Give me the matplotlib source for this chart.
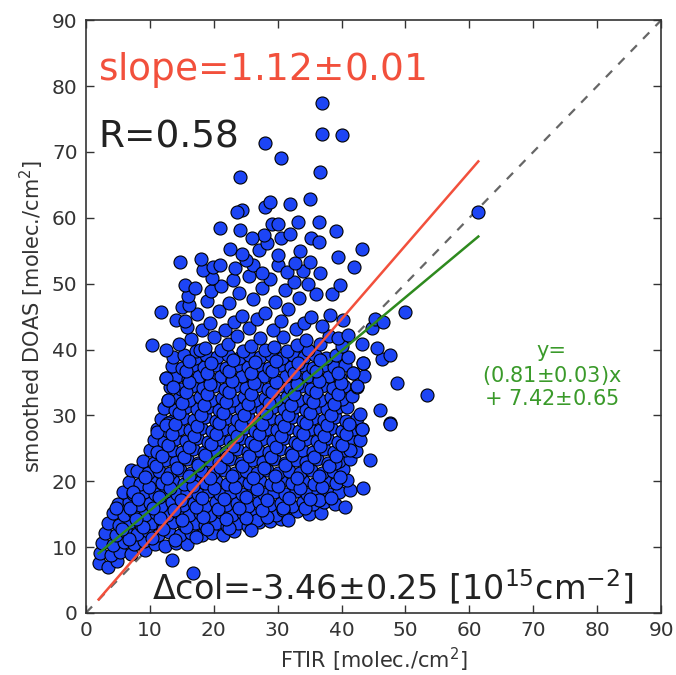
#!/usr/bin/env python
# -*- coding: utf-8 -*-
"""Scatter of smoothed DOAS vs FTIR columns with fit lines."""

import matplotlib
matplotlib.use("Agg")
import matplotlib.pyplot as plt


# (FTIR, DOAS) pairs, grouped by band
low_band = [
    (2.0, 7.6), (3.5, 7.0), (4.8, 7.9),
    (2.2, 9.1), (3.9, 8.8), (5.4, 9.3), (7.0, 9.0), (9.2, 9.6),
    (2.6, 10.6), (4.2, 10.3), (5.9, 10.7), (7.5, 10.4), (9.1, 10.9), (10.8, 10.5),
    (12.4, 10.2), (14.1, 10.6), (15.8, 10.5),
    (3.0, 12.1), (4.7, 11.8), (6.3, 12.3), (8.0, 12.0), (9.7, 12.4), (11.3, 11.9),
    (13.0, 12.3), (14.7, 11.8), (16.4, 12.2), (18.1, 11.9), (19.8, 12.2), (21.5, 11.8),
    (23.2, 12.4),
    (3.5, 13.6), (5.2, 13.3), (6.9, 13.8), (8.6, 13.4), (10.3, 13.7), (12.0, 13.3),
    (13.7, 13.8), (15.3, 13.4), (17.0, 13.7), (18.7, 13.3), (20.4, 13.6), (22.1, 13.2),
    (23.8, 13.7), (25.4, 13.2), (27.1, 13.8), (28.8, 14.0), (30.5, 14.2),
    (4.3, 15.1), (6.0, 14.8), (7.6, 15.3), (9.3, 14.9), (11.0, 15.2), (12.7, 14.8),
    (14.4, 15.3), (16.1, 14.9), (17.8, 15.2), (19.5, 14.8), (21.2, 15.3), (22.9, 14.9),
    (24.6, 15.2), (26.3, 14.8), (28.0, 15.3), (29.7, 14.9), (31.4, 15.1), (33.1, 15.4),
    (34.9, 15.0), (36.8, 15.1),
    (5.0, 16.5), (6.7, 16.8), (8.4, 16.4), (10.1, 16.7), (11.8, 16.3), (13.5, 16.8),
    (15.2, 16.4), (16.9, 16.7), (18.6, 16.3), (20.3, 16.8), (22.0, 16.4), (23.7, 16.7),
    (25.4, 16.3), (27.1, 16.8), (28.8, 16.4), (30.5, 16.7), (32.2, 16.3), (33.9, 16.8),
    (35.6, 16.5), (37.3, 16.9), (39.0, 16.6),
    (5.8, 18.3), (7.4, 18.0), (9.1, 18.4), (10.8, 18.1), (12.5, 18.5), (14.2, 18.0),
    (15.9, 18.4), (17.6, 18.1), (19.3, 18.5), (21.0, 18.0), (22.7, 18.4), (24.4, 18.1),
    (26.1, 18.5), (27.8, 18.0), (29.5, 18.4), (31.2, 18.1), (32.9, 18.5), (34.6, 18.0),
    (36.3, 18.4), (38.0, 18.1), (39.6, 18.3), (41.4, 18.6),
    (6.8, 19.9), (8.5, 19.6), (10.2, 20.0), (11.9, 19.7), (13.6, 20.1), (15.3, 19.6),
    (17.0, 20.0), (18.7, 19.7), (20.4, 20.1), (22.1, 19.6), (23.8, 20.0), (25.5, 19.7),
    (27.2, 20.1), (28.9, 19.6), (30.6, 20.0), (32.3, 19.7), (34.0, 20.1), (35.7, 19.6),
    (37.4, 20.0), (39.1, 19.8), (40.8, 20.2),
    (4.7, 15.9), (7.0, 21.7), (7.3, 18.4), (9.1, 22.7), (13.5, 8.1), (16.7, 6.0),
    (36.4, 17.1), (30.9, 15.6), (26.7, 14.1), (31.7, 14.1), (40.5, 16.1), (43.4, 18.9),
]

mid_band = [
    (8.0, 21.5), (9.7, 21.2), (11.4, 21.6), (13.1, 21.3), (14.8, 21.7), (16.5, 21.2),
    (18.2, 21.6), (19.9, 21.3), (21.6, 21.7), (23.3, 21.2), (25.0, 21.6), (26.7, 21.3),
    (28.4, 21.7), (30.1, 21.2), (31.8, 21.6), (33.5, 21.3), (35.2, 21.7), (36.9, 21.2),
    (38.6, 21.5), (40.3, 21.8),
    (9.0, 23.1), (10.7, 22.8), (12.4, 23.2), (14.1, 22.9), (15.8, 23.3), (17.5, 22.8),
    (19.2, 23.2), (20.9, 22.9), (22.6, 23.3), (24.3, 22.8), (26.0, 23.2), (27.7, 22.9),
    (29.4, 23.3), (31.1, 22.8), (32.8, 23.2), (34.5, 22.9), (36.2, 23.3), (37.9, 22.8),
    (39.6, 23.1), (41.3, 23.4),
    (10.0, 24.7), (11.7, 24.4), (13.4, 24.8), (15.1, 24.5), (16.8, 24.9), (18.5, 24.4),
    (20.2, 24.8), (21.9, 24.5), (23.6, 24.9), (25.3, 24.4), (27.0, 24.8), (28.7, 24.5),
    (30.4, 24.9), (32.1, 24.4), (33.8, 24.8), (35.5, 24.5), (37.2, 24.9), (38.9, 24.4),
    (40.6, 24.8), (42.3, 24.6),
    (10.6, 26.3), (12.3, 26.0), (14.0, 26.4), (15.7, 26.1), (17.4, 26.5), (19.1, 26.0),
    (20.8, 26.4), (22.5, 26.1), (24.2, 26.5), (25.9, 26.0), (27.6, 26.4), (29.3, 26.1),
    (31.0, 26.5), (32.7, 26.0), (34.4, 26.4), (36.1, 26.1), (37.8, 26.5), (39.5, 26.0),
    (41.2, 26.4), (42.9, 26.2),
    (11.2, 27.9), (12.9, 27.6), (14.6, 28.0), (16.3, 27.7), (18.0, 28.1), (19.7, 27.6),
    (21.4, 28.0), (23.1, 27.7), (24.8, 28.1), (26.5, 27.6), (28.2, 28.0), (29.9, 27.7),
    (31.6, 28.1), (33.3, 27.6), (35.0, 28.0), (36.7, 27.7), (38.4, 28.1), (40.1, 27.6),
    (41.8, 28.0), (43.2, 28.0),
    (11.8, 29.5), (13.5, 29.2), (15.2, 29.6), (16.9, 29.3), (18.6, 29.7), (20.3, 29.2),
    (22.0, 29.6), (23.7, 29.3), (25.4, 29.7), (27.1, 29.2), (28.8, 29.6), (30.5, 29.3),
    (32.2, 29.7), (33.9, 29.2), (35.6, 29.6), (37.3, 29.3), (39.0, 29.7), (40.7, 29.2),
    (42.4, 29.6),
    (12.3, 31.1), (14.0, 30.8), (15.7, 31.2), (17.4, 30.9), (19.1, 31.3), (20.8, 30.8),
    (22.5, 31.2), (24.2, 30.9), (25.9, 31.3), (27.6, 30.8), (29.3, 31.2), (31.0, 30.9),
    (32.7, 31.3), (34.4, 30.8), (36.1, 31.2), (37.8, 30.9), (39.5, 31.3), (40.8, 31.3),
    (42.9, 30.2),
    (12.8, 32.4), (14.5, 32.7), (16.2, 32.3), (17.9, 32.8), (19.6, 32.4), (21.3, 32.7),
    (23.0, 32.3), (24.7, 32.8), (26.4, 32.4), (28.1, 32.7), (29.8, 32.3), (31.5, 32.8),
    (33.2, 32.4), (34.9, 32.7), (36.6, 32.3), (38.3, 32.8), (40.0, 32.5), (41.7, 32.9),
    (13.2, 34.3), (14.9, 34.0), (16.6, 34.4), (18.3, 34.1), (20.0, 34.5), (21.7, 34.0),
    (23.4, 34.4), (25.1, 34.1), (26.8, 34.5), (28.5, 34.0), (30.2, 34.4), (31.9, 34.1),
    (33.6, 34.5), (35.3, 34.0), (37.0, 34.4), (38.7, 34.1), (40.4, 34.5), (42.4, 34.3),
    (12.6, 35.7), (14.3, 35.9), (16.0, 35.5), (17.7, 36.0), (19.4, 35.6), (21.1, 35.9),
    (22.8, 35.5), (24.5, 36.0), (26.2, 35.6), (27.9, 35.9), (29.6, 35.5), (31.3, 36.0),
    (33.0, 35.6), (34.7, 35.9), (36.4, 35.5), (38.1, 36.0), (39.8, 35.7), (41.8, 36.4),
    (43.5, 36.0),
    (13.4, 37.5), (15.1, 37.2), (16.8, 37.6), (18.5, 37.3), (20.2, 37.7), (21.9, 37.2),
    (23.6, 37.6), (25.3, 37.3), (27.0, 37.7), (28.7, 37.2), (30.4, 37.6), (32.1, 37.3),
    (33.8, 37.7), (35.5, 37.2), (37.2, 37.6), (38.9, 37.3), (40.6, 37.7), (43.4, 37.9),
    (13.7, 38.8), (15.4, 39.1), (17.1, 38.7), (18.8, 39.2), (20.5, 38.8), (22.2, 39.1),
    (23.9, 38.7), (25.6, 39.2), (27.3, 38.8), (29.0, 39.1), (30.7, 38.7), (32.4, 39.2),
    (34.1, 38.8), (35.8, 39.1), (37.5, 38.7), (39.2, 39.2), (41.0, 38.9), (46.3, 38.6),
    (47.6, 39.2),
    (10.4, 40.7), (12.5, 40.0), (17.2, 39.7), (12.5, 35.6), (13.6, 34.3), (12.8, 32.3),
    (12.8, 28.8), (11.2, 24.5), (11.2, 27.5), (12.5, 28.5), (48.6, 34.9), (53.3, 33.1),
    (46.0, 30.8), (47.6, 28.8), (42.4, 34.5), (44.5, 23.2), (41.3, 24.7), (39.0, 22.7),
    (43.2, 28.0), (47.6, 28.7), (43.4, 37.9), (41.8, 36.4),
]

# points sitting between the rows above, in the crowded core
core_fill = [
    (6.8, 11.2), (10.4, 11.4), (13.9, 11.1), (17.2, 11.5),
    (5.6, 12.8), (8.9, 13.0), (12.1, 12.7), (15.6, 13.1), (19.0, 12.8), (22.4, 12.9),
    (25.8, 12.6),
    (7.8, 14.2), (11.6, 14.4), (15.0, 14.1), (18.3, 14.5), (21.9, 14.2), (25.1, 14.4),
    (28.4, 14.6),
    (6.9, 15.9), (10.5, 16.0), (13.8, 15.7), (17.3, 16.1), (20.6, 15.8), (24.0, 16.0),
    (27.5, 15.7), (30.9, 16.0), (34.3, 15.9),
    (8.1, 17.3), (11.4, 17.6), (14.9, 17.2), (18.2, 17.5), (21.6, 17.3), (25.0, 17.6),
    (28.3, 17.2), (31.8, 17.5), (35.1, 17.3), (38.4, 17.4),
    (9.9, 19.1), (13.2, 18.9), (16.7, 19.2), (20.0, 18.9), (23.4, 19.1), (26.8, 18.8),
    (30.1, 19.2), (33.5, 18.9), (36.9, 19.1),
    (9.3, 20.7), (12.7, 20.5), (16.1, 20.8), (19.4, 20.5), (22.9, 20.8), (26.2, 20.5),
    (29.6, 20.8), (33.0, 20.5), (36.4, 20.8), (39.7, 20.6),
    (10.9, 22.3), (14.3, 22.0), (17.6, 22.4), (21.0, 22.1), (24.4, 22.3), (27.8, 22.0),
    (31.2, 22.4), (34.6, 22.1), (38.0, 22.3),
    (11.9, 23.9), (15.3, 23.6), (18.7, 24.0), (22.1, 23.7), (25.5, 23.9), (28.9, 23.6),
    (32.3, 24.0), (35.7, 23.7), (39.1, 23.9),
    (12.8, 25.5), (16.2, 25.2), (19.6, 25.6), (23.0, 25.3), (26.4, 25.5), (29.8, 25.2),
    (33.2, 25.6), (36.6, 25.3), (40.0, 25.5),
    (13.5, 27.1), (16.9, 26.8), (20.3, 27.2), (23.7, 26.9), (27.1, 27.1), (30.5, 26.8),
    (33.9, 27.2), (37.3, 26.9), (40.7, 27.1),
    (14.0, 28.7), (17.4, 28.4), (20.8, 28.8), (24.2, 28.5), (27.6, 28.7), (31.0, 28.4),
    (34.4, 28.8), (37.8, 28.5), (41.2, 28.7),
    (14.6, 30.3), (18.0, 30.0), (21.4, 30.4), (24.8, 30.1), (28.2, 30.3), (31.6, 30.0),
    (35.0, 30.4), (38.4, 30.1),
    (15.1, 31.9), (18.5, 31.6), (21.9, 32.0), (25.3, 31.7), (28.7, 31.9), (32.1, 31.6),
    (35.5, 32.0), (38.9, 31.7),
    (15.6, 33.5), (19.0, 33.2), (22.4, 33.6), (25.8, 33.3), (29.2, 33.5), (32.6, 33.2),
    (36.0, 33.6), (39.4, 33.3),
    (16.1, 35.1), (19.5, 34.8), (22.9, 35.2), (26.3, 34.9), (29.7, 35.1), (33.1, 34.8),
    (36.5, 35.2), (39.9, 34.9),
    (15.6, 36.7), (19.0, 36.4), (22.4, 36.8), (25.8, 36.5), (29.2, 36.7), (32.6, 36.4),
    (36.0, 36.8), (39.4, 36.5),
    (16.2, 38.3), (19.6, 38.0), (23.0, 38.4), (26.4, 38.1), (29.8, 38.3), (33.2, 38.0),
    (36.6, 38.4),
    (17.8, 39.9), (21.2, 40.0), (24.6, 39.7), (28.0, 40.0), (31.4, 39.8), (34.8, 40.0),
]

high_band = [
    (14.5, 40.9), (16.4, 41.6), (18.6, 40.3), (20.1, 41.9), (22.2, 40.8), (23.6, 42.0),
    (25.8, 40.6), (27.3, 41.7), (29.4, 40.4), (30.8, 41.9), (33.0, 40.7), (34.4, 41.5),
    (36.6, 40.9), (38.0, 42.1), (40.1, 40.5), (43.2, 40.8), (45.5, 40.2),
    (15.8, 43.4), (18.1, 43.0), (19.4, 44.1), (21.8, 42.9), (23.1, 44.2), (25.6, 43.3),
    (26.8, 44.6), (29.3, 43.0), (30.5, 44.4), (32.9, 43.1), (34.2, 44.0), (36.9, 43.5),
    (39.5, 41.7), (41.0, 42.2), (44.7, 43.2),
    (14.1, 44.5), (15.5, 44.4), (17.4, 45.4), (20.8, 45.9), (24.4, 45.1), (28.0, 45.6),
    (31.6, 46.2), (35.2, 45.0), (38.2, 45.2), (40.3, 44.5), (45.2, 44.7), (46.5, 44.2),
    (11.7, 45.7), (15.0, 46.5), (16.1, 46.7), (18.9, 47.3), (22.4, 47.0), (26.1, 47.6),
    (29.6, 47.2), (33.4, 47.8), (49.9, 45.7),
    (16.0, 48.1), (19.6, 48.9), (21.2, 49.6), (24.0, 48.6), (27.6, 49.3), (31.1, 49.0),
    (36.0, 48.4), (38.5, 48.5),
    (15.5, 49.8), (17.0, 49.4), (19.8, 50.9), (23.0, 50.5), (25.6, 51.1), (28.8, 50.7),
    (32.5, 50.3), (34.8, 49.9), (39.8, 49.8),
    (18.3, 52.0), (19.9, 52.6), (21.0, 52.8), (23.4, 52.4), (26.2, 52.8), (27.5, 51.6),
    (30.1, 52.9), (31.5, 51.8), (33.9, 51.9), (36.6, 51.6), (35.1, 53.3), (32.7, 53.2),
    (41.9, 52.6),
    (14.8, 53.3), (18.0, 53.8), (25.0, 53.6), (27.1, 55.1), (28.4, 56.1), (30.0, 54.3),
    (22.5, 55.3), (39.5, 54.1), (43.2, 55.3), (24.5, 54.5), (33.5, 55.0),
]

outliers = [
    (27.8, 57.4), (30.6, 56.9), (35.3, 56.9), (36.4, 56.4), (21.0, 58.4), (24.1, 58.1),
    (29.1, 59.0), (30.1, 59.0), (33.2, 59.4), (36.4, 59.4), (39.1, 58.0), (28.0, 61.7),
    (28.8, 62.4), (31.9, 62.1), (35.0, 62.8), (24.5, 61.2), (23.7, 60.9), (24.1, 66.2),
    (28.0, 71.3), (30.5, 69.1), (36.6, 67.0), (36.9, 77.4), (36.9, 72.8), (40.0, 72.5),
    (61.4, 60.9), (26.0, 57.0), (32.0, 57.5),
]

# regression results quoted on the chart
slope_red, offset_red = 1.12, -0.2
slope_green, offset_green = 0.81, 7.42
fit_range = [2.0, 61.4]

all_points = low_band + mid_band + core_fill + high_band + outliers
ftir = [p[0] for p in all_points]
doas = [p[1] for p in all_points]

fig = plt.figure(figsize=(6.76, 6.75), dpi=100)
ax = fig.add_axes([0.127, 0.092, 0.851, 0.878])

ax.plot([0, 90], [0, 90], linestyle=(0, (4, 4)), color="#666666", linewidth=1.6, zorder=1)
ax.scatter(ftir, doas, s=88, c="#1d45f5", edgecolors="black", linewidths=0.8, zorder=2)
ax.plot(fit_range, [slope_red * x + offset_red for x in fit_range],
        color="#f2503c", linewidth=1.8, zorder=3)
ax.plot(fit_range, [slope_green * x + offset_green for x in fit_range],
        color="#2e8a1e", linewidth=1.8, zorder=3)

ax.set_xlim(0, 90)
ax.set_ylim(0, 90)
ax.set_xticks(range(0, 91, 10))
ax.set_yticks(range(0, 91, 10))
ax.tick_params(direction="in", top=True, right=True, length=6, width=1,
               labelsize=14.5, colors="#333333", labelcolor="#333333", pad=6)
for spine in ax.spines.values():
    spine.set_color("#333333")
    spine.set_linewidth(1.2)

ax.set_xlabel("FTIR [molec./cm$^2$]", fontsize=15, color="#333333")
ax.set_ylabel("smoothed DOAS [molec./cm$^2$]", fontsize=15, color="#333333")

ax.text(0.021, 0.899, "slope=1.12$\\pm$0.01", transform=ax.transAxes,
        fontsize=27, color="#f2503c", va="baseline", ha="left")
ax.text(0.021, 0.786, "R=0.58", transform=ax.transAxes,
        fontsize=27, color="#222222", va="baseline", ha="left")
ax.text(0.115, 0.022, "$\\Delta$col=-3.46$\\pm$0.25 [10$^{15}$cm$^{-2}$]",
        transform=ax.transAxes, fontsize=24, color="#222222", va="baseline", ha="left")
ax.text(0.81, 0.458, "y=\n(0.81$\\pm$0.03)x\n+ 7.42$\\pm$0.65", transform=ax.transAxes,
        fontsize=15, color="#3a9a2a", va="top", ha="center", linespacing=1.13)

fig.savefig("out.png", dpi=100)
